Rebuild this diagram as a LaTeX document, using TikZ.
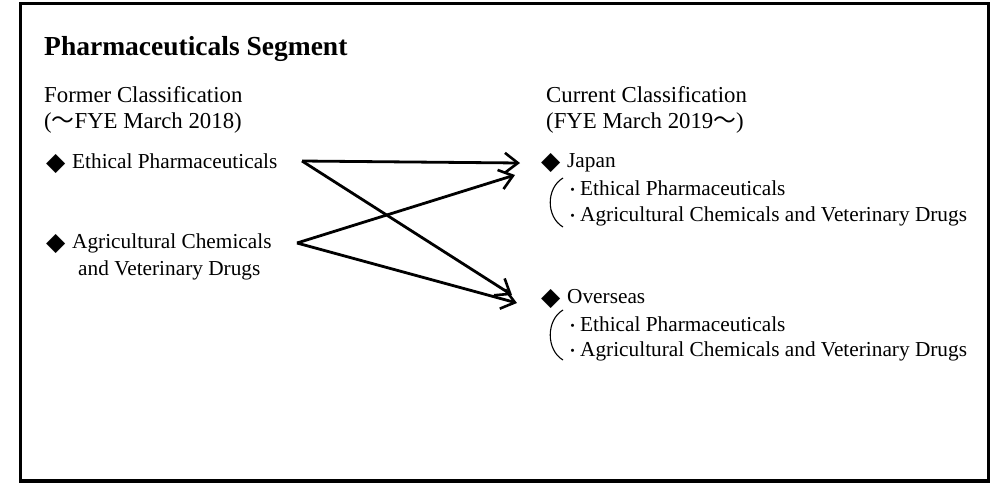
\documentclass[tikz,border=0pt]{standalone}
\usepackage{fontspec}
\setmainfont{Liberation Serif}
\newfontfamily\cjk{Noto Sans CJK JP}
\newfontfamily\djv{DejaVu Sans}
\usetikzlibrary{arrows.meta}
\newcommand{\dia}{\makebox[25pt][l]{\kern-1pt\raisebox{-2.5pt}{\djv\fontsize{25}{25}\selectfont ◆}}}
\newcommand{\dotb}{{\cjk\fontsize{15}{15}\selectfont ・}}
\begin{document}
\begin{tikzpicture}[x=1pt,y=-1pt,
  txt/.style={anchor=base west,inner sep=0pt,font=\fontsize{21.3}{26}\selectfont},
  hdr/.style={anchor=base west,inner sep=0pt,font=\fontsize{22.8}{27}\selectfont},
  ttl/.style={anchor=base west,inner sep=0pt,font=\fontsize{27.5}{32}\selectfont\bfseries},
  conn/.style={line width=2.8pt,-{Straight Barb[length=13pt,width=20pt,line width=2.6pt]}},
  brk/.style={line width=1.1pt}]
\useasboundingbox (0,0) rectangle (991,483);
\draw[line width=3.2pt] (20.5,3.5) rectangle (988.5,481);
\node[ttl] (title) at (44,55) {Pharmaceuticals Segment};
\node[hdr] (fc1) at (44,102) {Former Classification};
\node[hdr] (fc2) at (44,128) {({\cjk ～}FYE March 2018)};
\node[txt] (le) at (47,168) {\dia Ethical Pharmaceuticals};
\node[txt] (la1) at (47,248) {\dia Agricultural Chemicals};
\node[txt] (la2) at (78,275) {and Veterinary Drugs};
\node[hdr] (cc1) at (546,102) {Current Classification};
\node[hdr] (cc2) at (546,128) {(FYE March 2019{\cjk ～})};
\node[txt] (jp) at (542,167) {\dia Japan};
\node[txt] (jp1) at (565,195) {\dotb Ethical Pharmaceuticals};
\node[txt] (jp2) at (565,221) {\dotb Agricultural Chemicals and Veterinary Drugs};
\node[txt] (ov) at (542,303) {\dia Overseas};
\node[txt] (ov1) at (565,331) {\dotb Ethical Pharmaceuticals};
\node[txt] (ov2) at (565,356) {\dotb Agricultural Chemicals and Veterinary Drugs};
\draw[brk] (563,178) .. controls (546,188) and (546,217) .. (563,227);
\draw[brk] (563,310) .. controls (546,320) and (546,350) .. (563,360);
\coordinate (es) at (302,161);
\coordinate (as) at (297,243);
\coordinate (jt1) at (520,163);
\coordinate (jt2) at (515,175);
\coordinate (ot1) at (512,295);
\coordinate (ot2) at (517,303);
\draw[conn] (es) -- (jt1);
\draw[conn] (es) -- (ot1);
\draw[conn] (as) -- (jt2);
\draw[conn] (as) -- (ot2);
\end{tikzpicture}
\end{document}
